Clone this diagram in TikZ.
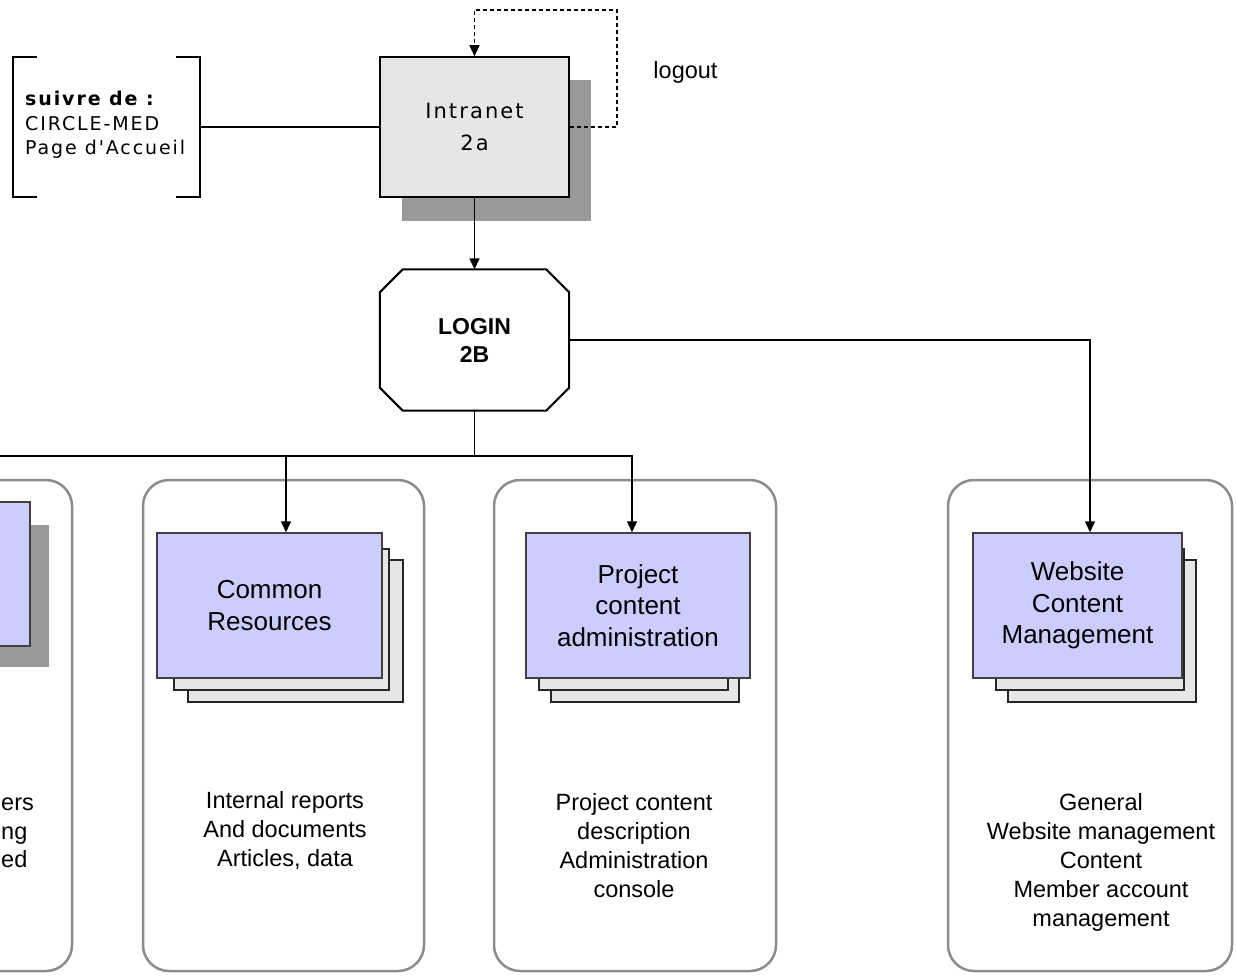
\documentclass[tikz,border=0pt]{standalone}
\usepackage{fontspec}
\setmainfont{Liberation Sans}
\newfontfamily\pixfont[LetterSpace=10]{DejaVu Sans}
\usepackage{tikz}
\usetikzlibrary{arrows.meta}
\usetikzlibrary{positioning}
\definecolor{sheetblue}{HTML}{CCCCFF}
\definecolor{sheetgray}{HTML}{E6E6E6}
\definecolor{shadowgray}{HTML}{999999}
\definecolor{panelgray}{HTML}{8C8C8C}
\tikzstyle{every node} = [inner sep=0]

\begin{document}
\begin{tikzpicture}[x=1pt, y=-1pt,
    link/.style={line width=1.5pt},
    tip/.style={-{Triangle[length=11pt,width=10pt]}},
    panel/.style={draw=panelgray, line width=2.5pt, rounded corners=26pt},
    frontsheet/.style={draw=black!75, line width=1.5pt, fill=sheetblue, align=center, font={\fontsize{26}{31.5}\selectfont}},
    backsheet/.style={draw=black!85, line width=1.5pt, fill=sheetgray},
    shadowbox/.style={fill=shadowgray},
    notes/.style={align=center, font={\fontsize{23.5}{29}\selectfont}}]
            \useasboundingbox (0,0) rectangle (1236,979);
            \clip (0,0) rectangle (1236,979);

            % Follow-up bracket
            \node[minimum width=187, minimum height=140] (follow) at (106.5,127) {};
            \draw[link] ([xshift=24pt]follow.north west) -- (follow.north west) -- (follow.south west) -- ([xshift=24pt]follow.south west);
            \draw[link] ([xshift=-24pt]follow.north east) -- (follow.north east) -- (follow.south east) -- ([xshift=-24pt]follow.south east);
            \node[anchor=west, align=left, font={\pixfont\fontsize{19}{24.5}\selectfont}] (followtext) at (25,125) {\textbf{suivre de :}\\CIRCLE-MED\\Page d'Accueil};

            % Intranet page
            \node[shadowbox, minimum width=189, minimum height=141] (intranetshadow) at (496.5,150.5) {};
            \node[draw, line width=1.5pt, fill=sheetgray, minimum width=189, minimum height=140, align=center, font={\pixfont\fontsize{21}{32}\selectfont}] (intranet) at (474.5,127) {Intranet\\2a};
            \draw[link] (follow.east) -- (intranet.west);

            % Logout loop
            \coordinate (loopcorner) at (617,10);
            \draw[link, dash pattern=on 4pt off 3pt, tip] (intranet.east) -| (loopcorner) -| (intranet.north);
            \node[font={\fontsize{23.5}{29}\selectfont}] (logout) at (685.5,72) {logout};

            % Login
            \node[minimum width=189, minimum height=141, align=center, font={\bfseries\fontsize{23}{28}\selectfont}] (login) at (474.5,340) {LOGIN\\2B};
            \draw[line width=2pt] ([xshift=23pt]login.north west) -- ([xshift=-23pt]login.north east) -- ([yshift=-23pt]login.north east) -- ([yshift=23pt]login.south east) -- ([xshift=-23pt]login.south east) -- ([xshift=23pt]login.south west) -- ([yshift=23pt]login.south west) -- ([yshift=-23pt]login.north west) -- cycle;

            % Left column (cut off)
            \node[panel, minimum width=282, minimum height=491] (leftpanel) at (-69,725.5) {};
            \node[shadowbox, minimum width=225, minimum height=142] (leftshadow) at (-63.5,596) {};
            \node[frontsheet, minimum width=225, minimum height=144] (leftsheet) at (-82.5,574) {};
            \node[notes, anchor=base west] (leftnoteA) at (1,810) {ers};
            \node[notes, anchor=base west] (leftnoteB) at (1,839) {ng};
            \node[notes, anchor=base west] (leftnoteC) at (1,867) {ed};

            % Common resources
            \node[panel, minimum width=281, minimum height=491] (commonpanel) at (283.5,725.5) {};
            \node[backsheet, minimum width=215, minimum height=142] (commonbackB) at (295.5,631) {};
            \node[backsheet, minimum width=215, minimum height=141] (commonbackA) at (281.5,619.5) {};
            \node[frontsheet, minimum width=225, minimum height=145] (common) at (269.5,605.5) {Common\\Resources};
            \node[notes] (commonnotes) at (285,830.5) {Internal reports\\And documents\\Articles, data};

            % Project content administration
            \node[panel, minimum width=282, minimum height=491] (projectpanel) at (635,725.5) {};
            \node[backsheet, minimum width=188, minimum height=142] (projectbackB) at (645,631) {};
            \node[backsheet, minimum width=189, minimum height=141] (projectbackA) at (633.5,619.5) {};
            \node[frontsheet, minimum width=224, minimum height=145] (project) at (638,605.5) {Project\\content\\administration};
            \node[notes] (projectnotes) at (634,846) {Project content\\description\\Administration\\console};

            % Website content management
            \node[panel, minimum width=284, minimum height=491] (websitepanel) at (1090,725.5) {};
            \node[backsheet, minimum width=188, minimum height=142] (websitebackB) at (1102,631) {};
            \node[backsheet, minimum width=188, minimum height=141] (websitebackA) at (1090,619.5) {};
            \node[frontsheet, minimum width=209, minimum height=145] (website) at (1077.5,605.5) {Website\\Content\\Management};
            \node[notes] (websitenotes) at (1101,862.5) {General\\Website management\\Content\\Member account\\management};

            % Connections
            \coordinate (split) at (474.5,456);
            \coordinate (leftend) at (-5,456);
            \draw[link, tip] (intranet.south) -- (login.north);
            \draw[link] (login.south) -- (split) -- (leftend);
            \draw[link, tip] (split) -| ([xshift=16.5pt]common.north);
            \draw[link, tip] (split) -| ([xshift=-6pt]project.north);
            \draw[link, tip] (login.east) -| ([xshift=12.5pt]website.north);
        \end{tikzpicture}
\end{document}
